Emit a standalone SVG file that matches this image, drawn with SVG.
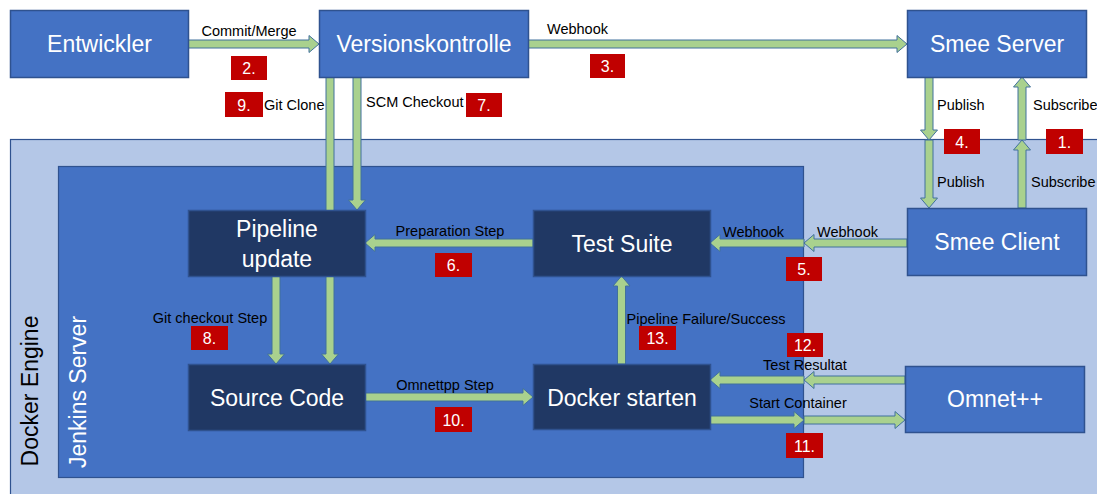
<svg xmlns="http://www.w3.org/2000/svg" width="1097" height="494" viewBox="0 0 1097 494">
<defs>
<filter id="soft" x="-20%" y="-20%" width="140%" height="140%"><feGaussianBlur stdDeviation="0.6"/></filter>
</defs>
<style>
.node{fill:#4472c4;stroke:#2f528f;stroke-width:1.5}
.dark{fill:#203864;stroke:#2f528f;stroke-width:1.5}
.ntxt{font-family:"Liberation Sans",Arial,sans-serif;font-size:23px;fill:#ffffff;text-anchor:middle}
.lbl{font-family:"Liberation Sans",Arial,sans-serif;font-size:14.5px;fill:#000000}
.arr{fill:#a9d18e;stroke:#41719c;stroke-width:1}
.badge{fill:#c00000;filter:url(#soft)}
.btxt{font-family:"Liberation Sans",Arial,sans-serif;font-size:16px;fill:#ffffff;text-anchor:middle}
</style>
<rect width="1097" height="494" fill="#ffffff"/>
<g id="docker-engine">
<rect x="10.5" y="139.5" width="1090" height="360" fill="#b4c7e7" stroke="#2f528f" stroke-width="1.2"/>
<text transform="rotate(-90 38 391)" x="38" y="391" font-family="Liberation Sans, Arial, sans-serif" font-size="23" fill="#000" text-anchor="middle">Docker Engine</text>
</g>
<g id="jenkins-server">
<rect x="58.5" y="166.5" width="745" height="311" fill="#4472c4" stroke="#2f528f" stroke-width="1.2"/>
<text transform="rotate(-90 86 392)" x="86" y="392" font-family="Liberation Sans, Arial, sans-serif" font-size="23" fill="#fff" text-anchor="middle">Jenkins Server</text>
</g>
<g id="connectors">
<polygon class="arr" points="188,40 309,40 309,35.5 319,44 309,52.5 309,48 188,48"/>
<polygon class="arr" points="528,40 897,40 897,35.5 907,44 897,52.5 897,48 528,48"/>
<polygon class="arr" points="326,77 334,77 334,354 338.5,354 330,364 321.5,354 326,354"/>
<polygon class="arr" points="353,77 361,77 361,200 365.5,200 357,210 348.5,200 353,200"/>
<polygon class="arr" points="272,276 280,276 280,354 284.5,354 276,364 267.5,354 272,354"/>
<polygon class="arr" points="533,239 375,239 375,234.5 365,243 375,251.5 375,247 533,247"/>
<polygon class="arr" points="907,239 814,239 814,234.5 804,243 814,251.5 814,247 907,247"/>
<polygon class="arr" points="804,239 720,239 720,234.5 710,243 720,251.5 720,247 804,247"/>
<polygon class="arr" points="617.5,364 625.5,364 625.5,286 630,286 621.5,276 613,286 617.5,286"/>
<polygon class="arr" points="365,393 523,393 523,388.5 533,397 523,405.5 523,401 365,401"/>
<polygon class="arr" points="905,376 814,376 814,371.5 804,380 814,388.5 814,384 905,384"/>
<polygon class="arr" points="804,376 720,376 720,371.5 710,380 720,388.5 720,384 804,384"/>
<polygon class="arr" points="710,416 794,416 794,411.5 804,420 794,428.5 794,424 710,424"/>
<polygon class="arr" points="804,416 895,416 895,411.5 905,420 895,428.5 895,424 804,424"/>
<polygon class="arr" points="925,77 933,77 933,130 937.5,130 929,140 920.5,130 925,130"/>
<polygon class="arr" points="925,140 933,140 933,198 937.5,198 929,208 920.5,198 925,198"/>
<polygon class="arr" points="1018,208 1026,208 1026,150 1030.5,150 1022,140 1013.5,150 1018,150"/>
<polygon class="arr" points="1018,140 1026,140 1026,87 1030.5,87 1022,77 1013.5,87 1018,87"/>
<text class="lbl" x="249" y="36" text-anchor="middle">Commit/Merge</text>
<text class="lbl" x="547" y="34">Webhook</text>
<text class="lbl" x="264" y="110">Git Clone</text>
<text class="lbl" x="366" y="107">SCM Checkout</text>
<text class="lbl" x="937" y="110">Publish</text>
<text class="lbl" x="1033" y="110">Subscribe</text>
<text class="lbl" x="937" y="187">Publish</text>
<text class="lbl" x="1031" y="187">Subscribe</text>
<text class="lbl" x="450" y="236" text-anchor="middle">Preparation Step</text>
<text class="lbl" x="210" y="323" text-anchor="middle">Git checkout Step</text>
<text class="lbl" x="445" y="390" text-anchor="middle">Omnettpp Step</text>
<text class="lbl" x="723" y="237">Webhook</text>
<text class="lbl" x="817" y="237">Webhook</text>
<text class="lbl" x="706" y="324" text-anchor="middle">Pipeline Failure/Success</text>
<text class="lbl" x="805" y="370" text-anchor="middle">Test Resultat</text>
<text class="lbl" x="798" y="408" text-anchor="middle">Start Container</text>
</g>
<g id="entwickler">
<rect class="node" x="10.5" y="10.5" width="178" height="67"/>
<text class="ntxt" x="99.5" y="52">Entwickler</text>
</g>
<g id="versionskontrolle">
<rect class="node" x="319.5" y="10.5" width="209" height="67"/>
<text class="ntxt" x="424" y="52">Versionskontrolle</text>
</g>
<g id="smee-server">
<rect class="node" x="907.5" y="10.5" width="179" height="67"/>
<text class="ntxt" x="997" y="52">Smee Server</text>
</g>
<g id="smee-client">
<rect class="node" x="907.5" y="208.5" width="179" height="67"/>
<text class="ntxt" x="997" y="250">Smee Client</text>
</g>
<g id="omnet">
<rect class="node" x="905.5" y="366.5" width="179" height="66"/>
<text class="ntxt" x="995" y="407">Omnet++</text>
</g>
<g id="pipeline-update">
<rect class="dark" x="188.5" y="210.5" width="177" height="66"/>
<text class="ntxt" x="277" y="237">Pipeline</text>
<text class="ntxt" x="277" y="267">update</text>
</g>
<g id="test-suite">
<rect class="dark" x="533.5" y="210.5" width="177" height="66"/>
<text class="ntxt" x="622" y="252">Test Suite</text>
</g>
<g id="source-code">
<rect class="dark" x="188.5" y="364.5" width="177" height="66"/>
<text class="ntxt" x="277" y="406">Source Code</text>
</g>
<g id="docker-starten">
<rect class="dark" x="533.5" y="364.5" width="177" height="65"/>
<text class="ntxt" x="622" y="406">Docker starten</text>
</g>
<g id="badges">
<rect class="badge" x="1046" y="129" width="37" height="25"/><text class="btxt" x="1064.5" y="148">1.</text>
<rect class="badge" x="231" y="56" width="36" height="24"/><text class="btxt" x="249" y="74">2.</text>
<rect class="badge" x="590" y="54" width="35" height="24"/><text class="btxt" x="607.5" y="72">3.</text>
<rect class="badge" x="944" y="129" width="36" height="25"/><text class="btxt" x="962" y="148">4.</text>
<rect class="badge" x="786" y="257" width="36" height="24"/><text class="btxt" x="804" y="275">5.</text>
<rect class="badge" x="435" y="253" width="37" height="24"/><text class="btxt" x="453.5" y="271">6.</text>
<rect class="badge" x="466" y="93" width="36" height="24"/><text class="btxt" x="484" y="111">7.</text>
<rect class="badge" x="191" y="326" width="37" height="24"/><text class="btxt" x="209.5" y="344">8.</text>
<rect class="badge" x="225" y="92" width="38" height="25"/><text class="btxt" x="244" y="111">9.</text>
<rect class="badge" x="435" y="407" width="37" height="25"/><text class="btxt" x="453.5" y="426">10.</text>
<rect class="badge" x="786" y="433" width="37" height="25"/><text class="btxt" x="804.5" y="452">11.</text>
<rect class="badge" x="787" y="333" width="36" height="24"/><text class="btxt" x="805" y="351">12.</text>
<rect class="badge" x="639" y="326" width="37" height="24"/><text class="btxt" x="657.5" y="344">13.</text>
</g>
</svg>
